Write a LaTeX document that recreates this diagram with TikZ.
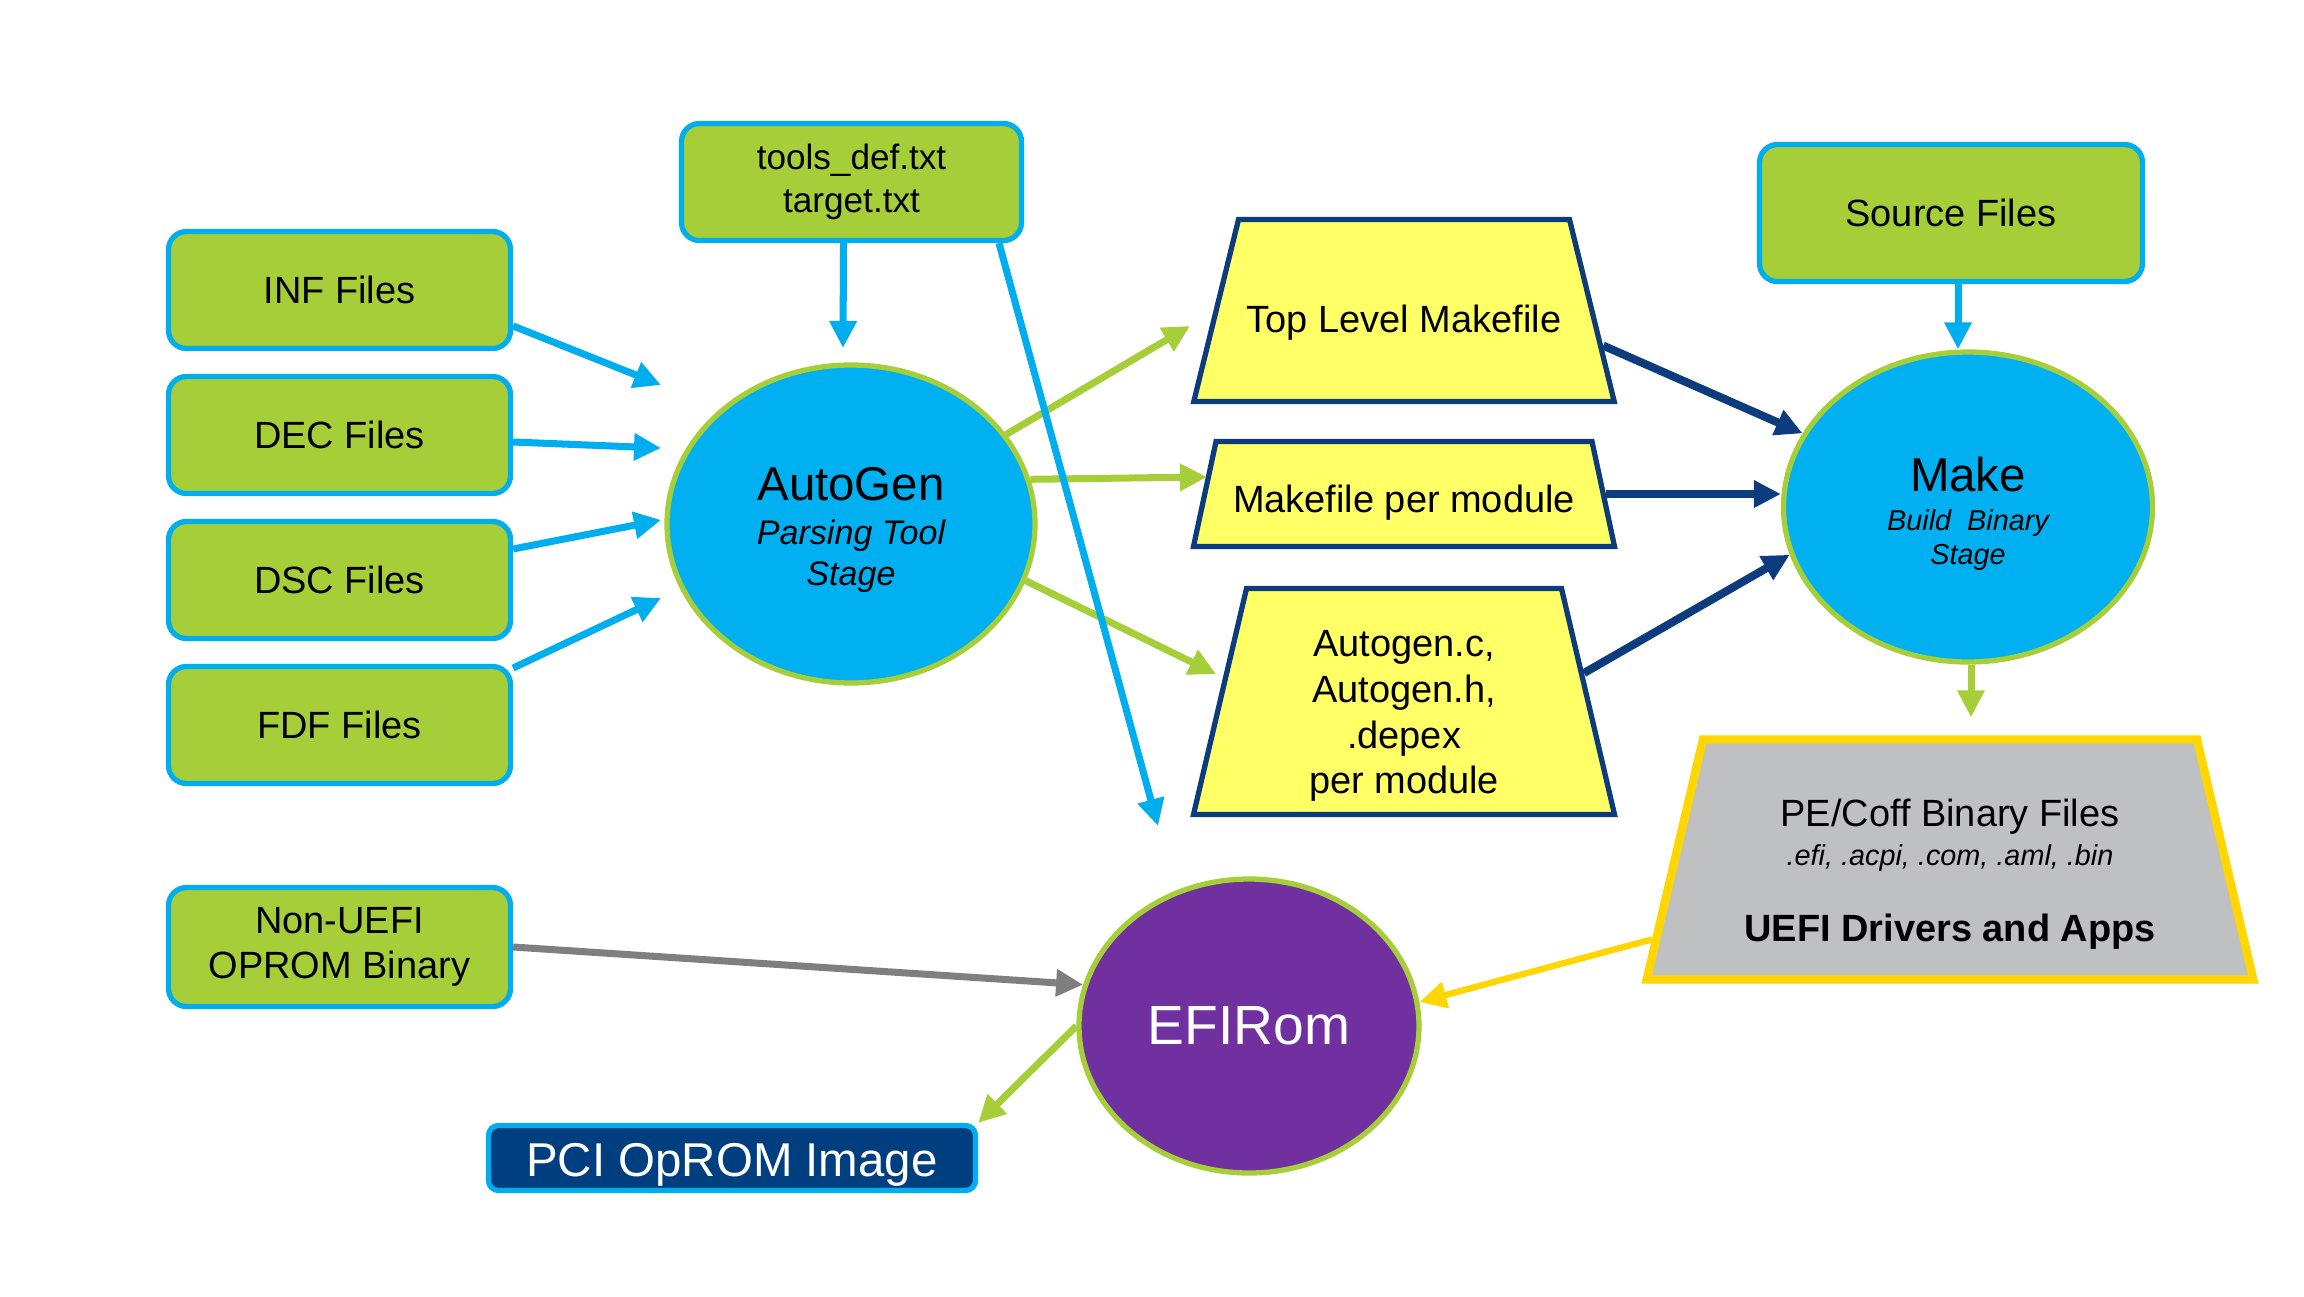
\documentclass[tikz,border=0pt]{standalone}
\usepackage{fontspec}
\setmainfont{Liberation Sans}
\usepackage{tikz}
\usetikzlibrary{calc, positioning, arrows.meta, shapes.geometric}
\usepackage{xcolor}
\definecolor{fileLime}{RGB}{166, 206, 57}
\definecolor{fileCyan}{RGB}{0, 174, 239}
\definecolor{stageBlue}{RGB}{0, 176, 240}
\definecolor{mkYellow}{RGB}{255, 255, 102}
\definecolor{mkNavy}{RGB}{12, 60, 125}
\definecolor{binGray}{RGB}{191, 192, 194}
\definecolor{binGold}{RGB}{255, 214, 0}
\definecolor{romPurple}{RGB}{112, 48, 160}
\definecolor{pciNavy}{RGB}{0, 63, 127}
\definecolor{arrGray}{RGB}{127, 127, 127}
% body of a trapezium: [drop], top width, height, text
\newcommand{\mkbody}[4][0pt]{\parbox[c][#3][c]{#2}{\vspace*{#1}\centering #4}}

\begin{document}
\begin{tikzpicture}[>={Triangle[length=0.27cm, width=0.26cm]},
  filebox/.style={draw=fileCyan, fill=fileLime, line width=1.5pt,
    rounded corners=0.18cm, minimum width=3.42cm, minimum height=1.17cm,
    align=center, inner sep=0pt, font=\fontsize{10.8}{13}\selectfont},
  stagenode/.style={ellipse, draw=fileLime, fill=stageBlue, line width=1.5pt,
    inner sep=0pt, align=center},
  mkbox/.style={trapezium, draw=mkNavy, fill=mkYellow, line width=1.5pt,
    inner sep=0pt, font=\fontsize{10.8}{13}\selectfont},
  inarrow/.style={->, fileCyan, line width=2pt},
  genarrow/.style={->, fileLime, line width=2pt},
  mkarrow/.style={->, mkNavy, line width=2.3pt}]
  \useasboundingbox (0,0) rectangle (23.04,-12.96);

  % Input files
  \node[filebox] (inf) at (3.395,-2.90) {INF Files};
  \node[filebox] (dec) at (3.395,-4.35) {DEC Files};
  \node[filebox] (dsc) at (3.395,-5.80) {DSC Files};
  \node[filebox] (fdf) at (3.395,-7.25) {FDF Files};
  \node[filebox, minimum height=1.19cm] (nonuefi) at (3.395,-9.47)
    {Non-UEFI\\OPROM Binary};
  \node[filebox, minimum width=3.40cm, font=\fontsize{10}{12.3}\selectfont] (tools)
    at (8.515,-1.82) {tools\_def.txt\\target.txt};
  \node[filebox, minimum width=3.83cm, minimum height=1.37cm] (source)
    at (19.51,-2.13) {Source Files};
  \node[filebox, fill=pciNavy, text=white, minimum width=4.87cm, minimum height=0.65cm,
    rounded corners=0.1cm, font=\fontsize{13.5}{15}\selectfont] (pci)
    at (7.32,-11.58) {\rule{0pt}{13.3pt}PCI OpROM Image};

  % Stages
  \node[stagenode, minimum width=3.68cm, minimum height=3.18cm,
    font=\itshape\fontsize{9.7}{11.7}\selectfont] (autogen) at (8.51,-5.24)
    {{\upshape\fontsize{13.5}{16}\selectfont\rule{0pt}{12.9pt}AutoGen}\\[0.8pt]
     Parsing Tool\\ Stage};
  \node[stagenode, minimum width=3.69cm, minimum height=3.10cm,
    font=\itshape\fontsize{8.2}{9.6}\selectfont] (make) at (19.68,-5.07)
    {{\upshape\fontsize{13.5}{16}\selectfont\rule{0pt}{13.7pt}Make}\\[1.6pt]
     Build\ \ Binary\\ Stage};
  \node[stagenode, fill=romPurple, text=white, minimum width=3.40cm, minimum height=2.94cm,
    font=\fontsize{15.7}{18}\selectfont] (efirom) at (12.49,-10.26) {EFIRom};

  % Generated files
  \node[mkbox, trapezium angle=76.2] (toplevel) at (14.04,-3.105)
    {\mkbody[6.7pt]{3.31cm}{1.82cm}{Top Level Makefile}};
  \node[mkbox, trapezium angle=77.9] (permod) at (14.04,-4.94)
    {\mkbody[5pt]{3.76cm}{1.05cm}{Makefile per module}};
  \node[mkbox, trapezium angle=76.8] (autogenc) at (14.04,-7.015)
    {\mkbody[8.4pt]{3.15cm}{2.26cm}{Autogen.c,\\Autogen.h,\\.depex\\per module}};
  \node[mkbox, trapezium angle=76.8, draw=binGold, fill=binGray, line width=2.4pt]
    (pecoff) at (19.50,-8.595)
    {\mkbody[8.4pt]{4.94cm}{2.40cm}{PE/Coff Binary Files\\[-1.8pt]
     {\itshape\fontsize{8.2}{10}\selectfont .efi, .acpi, .com, .aml, .bin}\\[8.7pt]
     \bfseries UEFI Drivers and Apps}};

  % Arrow ends
  \coordinate (agIn1) at (6.61,-3.85);
  \coordinate (agIn2) at (6.61,-4.48);
  \coordinate (agIn3) at (6.61,-5.20);
  \coordinate (agIn4) at (6.61,-5.98);
  \coordinate (agTop) at (8.43,-3.48);
  \coordinate (toolsEnd) at (11.58,-8.26);

  \draw[inarrow] ([yshift=-0.36cm]inf.east) -- (agIn1);
  \draw[inarrow] ([yshift=-0.07cm]dec.east) -- (agIn2);
  \draw[inarrow] ([yshift=0.31cm]dsc.east) -- (agIn3);
  \draw[inarrow] ([yshift=0.57cm]fdf.east) -- (agIn4);
  \draw[inarrow] ([xshift=-0.08cm]tools.south) -- (agTop);

  \draw[genarrow] (autogen.30) -- (11.90,-3.26);
  \draw[genarrow] (autogen.14.5) -- (12.07,-4.77);
  \draw[genarrow] (autogen.-18.8) -- (12.16,-6.74);
  \draw[inarrow] ([xshift=1.475cm]tools.south) -- (toolsEnd);

  \draw[mkarrow] (toplevel.-10) -- (make.156);
  \draw[mkarrow] (permod.east) -- (permod.east -| make.west);
  \draw[mkarrow] (autogenc.9.5) -- (make.195.3);
  \draw[inarrow] ([xshift=0.07cm]source.south) -- ([xshift=0.07cm]source.south |- make.north);
  \draw[genarrow, shorten >=0.18cm] ([xshift=0.03cm]make.south) -- ([xshift=0.03cm]make.south |- pecoff.north);

  \draw[->, binGold, line width=1.8pt] (pecoff.195.7) -- (efirom.8);
  \draw[->, arrGray, line width=2pt] (nonuefi.east) -- (efirom.166);
  \draw[genarrow] (efirom.west) -- (pci.north east);
\end{tikzpicture}
\end{document}
